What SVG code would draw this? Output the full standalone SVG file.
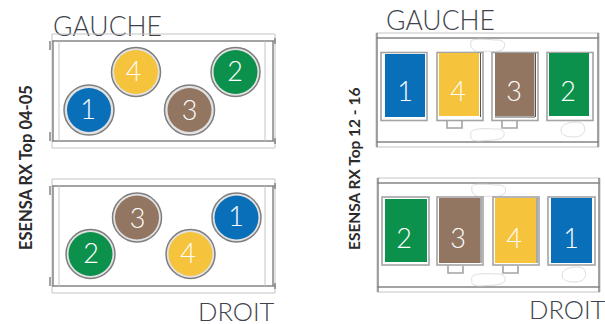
<svg xmlns="http://www.w3.org/2000/svg" width="605" height="324" viewBox="0 0 605 324">
<style>
text{font-family:"Lato","Noto Sans",sans-serif}
.t{font-size:25.500px;font-weight:300;fill:#3c434a}
.g{font-size:26.500px}
.v{font-size:15.500px;font-weight:700;fill:#2b2b2b}
.n{font-size:27px;font-weight:300;fill:#fff;text-anchor:middle}
.f1{fill:none;stroke:#858585;stroke-width:1.500}
.f2{fill:none;stroke:#c4c4c4;stroke-width:1}
.f3{fill:none;stroke:#d4d4d4;stroke-width:.8}
.r{fill:none;stroke:#a4a4a4;stroke-width:1.600}
.d{fill:none;stroke:#555;stroke-width:1}
.out{fill:#e2e2e2;stroke:#7e7e7e;stroke-width:1.500}
.blue{fill:#0a6fb9}.yel{fill:#f6c33c}.bro{fill:#927662}.gre{fill:#0b914b}
</style>
<defs>
<g id="fc">
<path class="f2" d="M52 34H275V148H52Z"/>
<path class="f1" d="M52 41H275M52 141H275"/>
<path class="f1" d="M53 41V141M273 41V141"/>
<path class="f2" d="M59 41V141M265 41V141"/>
<path class="f1" d="M50 41V50M50 132V141M275 38V44M275 138V144"/>
</g>
<g id="fr">
<path class="f2" d="M376 33H599V147H376Z"/>
<path class="f1" d="M376 38H599M376 142H599M377 33V147M598 33V147"/>
<path class="f3" d="M471 43C468 38 484 39 495 40C505 39 507 45 502 50C497 53 488 50 480 52C472 51 470 47 471 43ZM471 135C468 129 480 128 495 129C505 128 506 135 502 138C497 141 485 140 480 141C472 141 470 139 471 135ZM561 130C561 122 578 120 583 124C587 130 584 137 574 137C566 137 561 135 561 130Z"/>
<path class="r" d="M447 121V128H462V121M502 121V128H517V121"/>
</g>
</defs>

<g id="connectors"/>

<text class="t g" x="53" y="36">GAUCHE</text>
<text class="t g" x="386" y="30">GAUCHE</text>
<text class="t" x="198" y="320.500">DROIT</text>
<text class="t" x="529" y="319">DROIT</text>
<text class="v" style="font-size:16.500px" transform="translate(32 250) rotate(-90)">ESENSA RX Top 04-05</text>
<text class="v" transform="translate(360 250) rotate(-90)">ESENSA RX Top 12 - 16</text>

<g id="unit-top-left">
<use href="#fc"/>
<g id="c1a"><circle class="out" cx="89" cy="110" r="25"/><circle class="blue" cx="89" cy="110" r="22"/><text class="n" x="88" y="118.500">1</text></g>
<g id="c4a"><circle class="out" cx="136" cy="72" r="24.500"/><circle class="yel" cx="136" cy="72" r="22"/><text class="n" x="133.500" y="81">4</text></g>
<g id="c3a"><circle class="out" cx="189.500" cy="110" r="25"/><circle class="bro" cx="189.500" cy="110" r="22"/><text class="n" x="189.500" y="120">3</text></g>
<g id="c2a"><circle class="out" cx="235.500" cy="72" r="24.500"/><circle class="gre" cx="235.500" cy="72" r="22"/><text class="n" x="235" y="81">2</text></g>
</g>

<g id="unit-bottom-left">
<use href="#fc" y="145"/>
<g id="c3b"><circle class="out" cx="137" cy="217.500" r="24.500"/><circle class="bro" cx="137" cy="217.500" r="22"/><text class="n" x="137.500" y="228">3</text></g>
<g id="c1b"><circle class="out" cx="236.500" cy="217.500" r="24.500"/><circle class="blue" cx="236.500" cy="217.500" r="22"/><text class="n" x="236" y="226">1</text></g>
<g id="c2b"><circle class="out" cx="90.500" cy="254" r="24.500"/><circle class="gre" cx="90.500" cy="254" r="22"/><text class="n" x="91" y="262.500">2</text></g>
<g id="c4b"><circle class="out" cx="190.500" cy="254" r="24.500"/><circle class="yel" cx="190.500" cy="254" r="22"/><text class="n" x="188" y="263">4</text></g>
</g>

<g id="unit-top-right">
<use href="#fr"/>
<g id="r1a"><rect class="r" x="381" y="52.500" width="46" height="68"/><rect class="blue" x="385" y="54" width="40" height="63"/><text class="n" x="405" y="100.500">1</text></g>
<g id="r4a"><rect class="r" x="437" y="52.500" width="46" height="68"/><path class="d" d="M480.500 53V117"/><rect class="yel" x="439" y="53" width="40" height="63"/><text class="n" x="458" y="100.500">4</text></g>
<g id="r3a"><rect class="r" x="492" y="52.500" width="46" height="68"/><path class="d" d="M535.500 53V117M495 117H535"/><rect class="bro" x="495" y="53" width="39.500" height="63"/><text class="n" x="514" y="100.500">3</text></g>
<g id="r2a"><rect class="r" x="547" y="52.500" width="46" height="68"/><rect class="gre" x="549" y="53" width="40" height="63"/><text class="n" x="568" y="100.500">2</text></g>
</g>

<g id="unit-bottom-right">
<use href="#fr" y="145" x="1"/>
<g id="r2b"><rect class="r" x="382" y="197" width="47" height="68"/><rect class="gre" x="385" y="199" width="42" height="63"/><text class="n" x="404" y="248">2</text></g>
<g id="r3b"><rect class="r" x="437" y="197" width="46" height="68"/><path class="d" d="M481 198V263"/><rect class="bro" x="439" y="198" width="41" height="65"/><text class="n" x="458" y="248">3</text></g>
<g id="r4b"><rect class="r" x="493" y="197" width="46" height="68"/><path class="d" d="M537 198V263"/><rect class="yel" x="495" y="198" width="41" height="65"/><text class="n" x="514" y="248">4</text></g>
<g id="r1b"><rect class="r" x="548" y="197" width="47" height="68"/><rect class="blue" x="551" y="198" width="41" height="65"/><text class="n" x="571" y="248">1</text></g>
</g>
</svg>
